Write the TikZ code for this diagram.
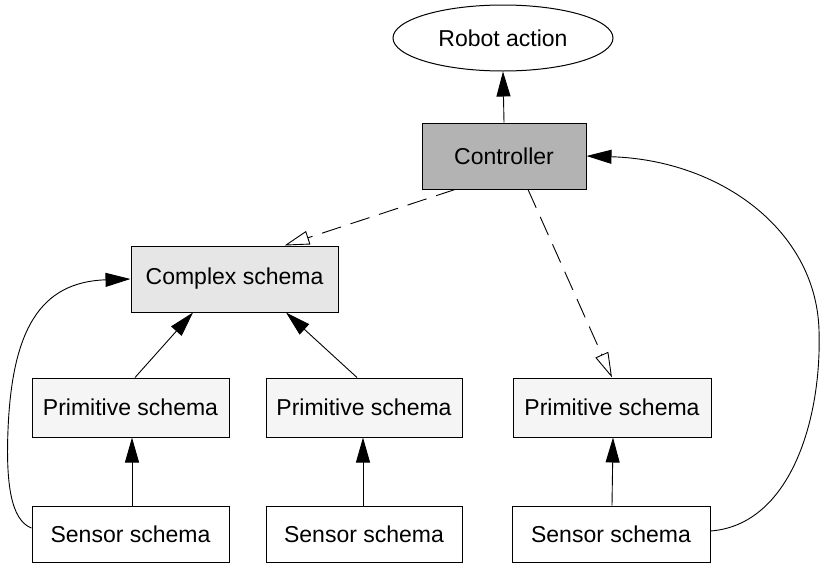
\documentclass[tikz,border=0pt]{standalone}
\usepackage{fontspec}
\setmainfont{Liberation Sans}
\usetikzlibrary{arrows.meta,shapes.geometric,calc}
\definecolor{ctrlgray}{HTML}{B3B3B3}
\definecolor{cxgray}{HTML}{E6E6E6}
\definecolor{prgray}{HTML}{F5F5F5}
\begin{document}
\begin{tikzpicture}[x=1pt,y=-1pt,
  every node/.style={font=\fontsize{23}{27}\selectfont, inner sep=0pt},
  boxnode/.style={draw=black, line width=1pt, rectangle},
  solidarrow/.style={line width=0.9pt, -{Triangle[length=25pt,width=14pt]}},
  openarrow/.style={line width=0.9pt, dash pattern=on 20pt off 10pt,
     -{Triangle[open,length=25pt,width=14pt,fill=white]}},
  loopline/.style={line width=0.9pt, -{Triangle[length=25pt,width=14pt]}}
]
\useasboundingbox (0,0) rectangle (820,563);
\node[ellipse, draw=black, line width=1pt, minimum width=220pt, minimum height=66pt] (ra) at (503,38) {Robot action};
\node[boxnode, fill=ctrlgray, minimum width=164pt, minimum height=66pt] (ctrl) at (504,156) {Controller};
\node[boxnode, fill=cxgray, minimum width=207pt, minimum height=66pt] (cs) at (234.5,279) {Complex schema};
\node[boxnode, fill=prgray, minimum width=197pt, minimum height=59pt] (p1) at (130.5,407.5) {Primitive schema};
\node[boxnode, fill=prgray, minimum width=196pt, minimum height=59pt] (p2) at (364,407.5) {Primitive schema};
\node[boxnode, fill=prgray, minimum width=198pt, minimum height=59pt] (p3) at (612,407.5) {Primitive schema};
\node[boxnode, fill=white, minimum width=197pt, minimum height=56pt] (s1) at (130.5,534) {Sensor schema};
\node[boxnode, fill=white, minimum width=196pt, minimum height=56pt] (s2) at (364,534) {Sensor schema};
\node[boxnode, fill=white, minimum width=198pt, minimum height=56pt] (s3) at (611,534) {Sensor schema};

\draw[solidarrow] (ctrl.north) -- (ra.south);
\draw[openarrow] ([xshift=-49pt]ctrl.south) -- ([xshift=50pt]cs.north);
\draw[openarrow] ([xshift=24pt]ctrl.south) -- (p3.north);
\draw[solidarrow] ([xshift=4.5pt]p1.north) -- ([xshift=-41.5pt]cs.south);
\draw[solidarrow] ([xshift=-7pt]p2.north) -- ([xshift=51.5pt]cs.south);
\draw[solidarrow] ([xshift=1.5pt]s1.north) -- ([xshift=1.5pt]p1.south);
\draw[solidarrow] ([xshift=-1pt]s2.north) -- ([xshift=-1pt]p2.south);
\draw[solidarrow] ([xshift=1pt]s3.north) -- ([xshift=1pt]p3.south);

\coordinate (lmid) at (8,430);
\coordinate (rmid) at (819,330);
\draw[loopline] ([yshift=6pt]s1.west) .. controls (10,520) and (6,480) .. (lmid)
   .. controls (12,330) and (40,282) .. (cs.west);
\draw[loopline] ([yshift=3pt]s3.east) .. controls (790,525) and (822,420) .. (rmid)
   .. controls (816,230) and (720,160) .. (ctrl.east);
\end{tikzpicture}
\end{document}
